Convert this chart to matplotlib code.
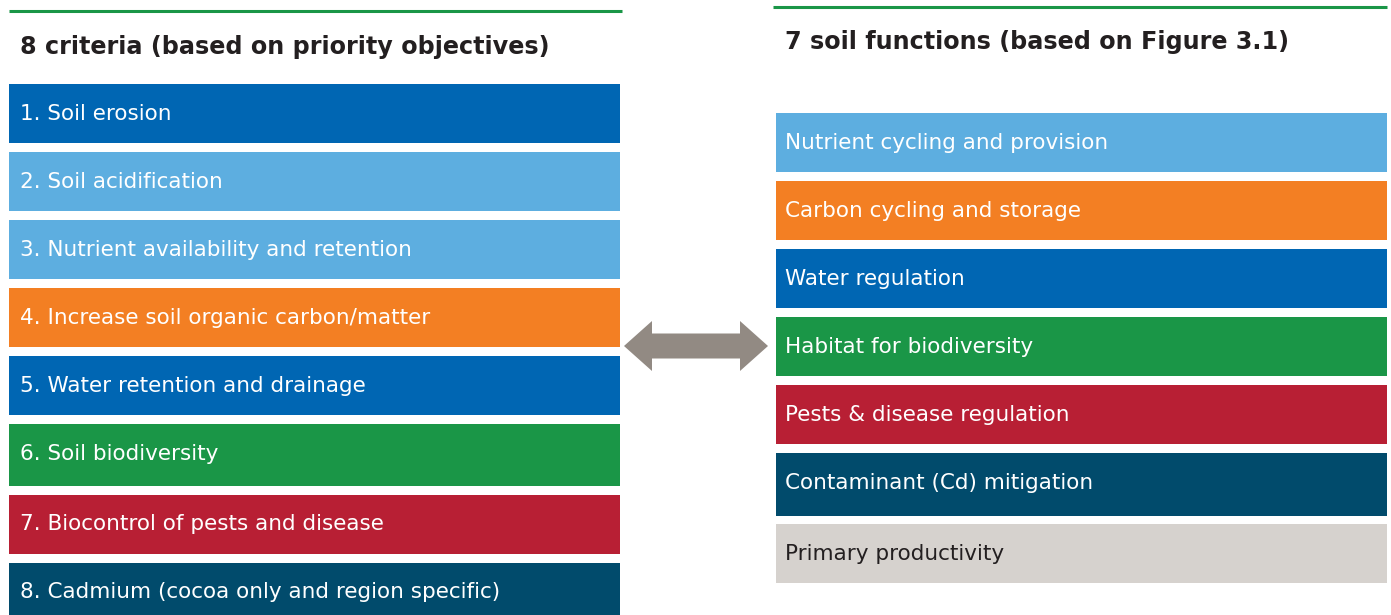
import matplotlib.pyplot as plt
from matplotlib.patches import Rectangle, Polygon

plt.rcParams['font.family'] = ['DejaVu Sans']

# data
criteria = ['1. Soil erosion', '2. Soil acidification', '3. Nutrient availability and retention',
            '4. Increase soil organic carbon/matter', '5. Water retention and drainage',
            '6. Soil biodiversity', '7. Biocontrol of pests and disease',
            '8. Cadmium (cocoa only and region specific)']
criteria_colors = ['#0066b3', '#5daee0', '#5daee0', '#f37f23', '#0066b3', '#1a9647', '#b81f34', '#014b6c']
functions = ['Nutrient cycling and provision', 'Carbon cycling and storage', 'Water regulation',
             'Habitat for biodiversity', 'Pests & disease regulation', 'Contaminant (Cd) mitigation',
             'Primary productivity']
function_colors = ['#5daee0', '#f37f23', '#0066b3', '#1a9647', '#b81f34', '#014b6c', '#d6d2ce']
function_text = ['white'] * 6 + ['#231f20']

W, H = 1391, 615
fig = plt.figure(figsize=(W / 100, H / 100), dpi=100)
ax = fig.add_axes([0, 0, 1, 1])
ax.set_xlim(0, W)
ax.set_ylim(H, 0)
ax.axis('off')

# left column
ax.plot([9, 622], [11, 11], color='#1a9647', lw=2.2, solid_capstyle='butt')
ax.text(20, 47, '8 criteria (based on priority objectives)', fontsize=17.2, fontweight='bold',
        color='#231f20', va='center', ha='left')
left_tops = [84, 152, 220, 288, 356, 424, 495, 563]
for i, (lab, c) in enumerate(zip(criteria, criteria_colors)):
    top = left_tops[i]
    h = 62 if i == 5 else 59
    ax.add_patch(Rectangle((9, top), 611, h, color=c, lw=0))
    ax.text(20, top + 29.5, lab, fontsize=15.5, color='white', va='center', ha='left')

# right column
ax.plot([773, 1387], [7, 7], color='#1a9647', lw=2.2, solid_capstyle='butt')
ax.text(785, 42, '7 soil functions (based on Figure 3.1)', fontsize=17.2, fontweight='bold',
        color='#231f20', va='center', ha='left')
right_tops = [113, 181, 249, 317, 385, 453, 524]
for i, (lab, c, tc) in enumerate(zip(functions, function_colors, function_text)):
    top = right_tops[i]
    h = 63 if i == 5 else 59
    ax.add_patch(Rectangle((776, top), 611, h, color=c, lw=0))
    ax.text(785, top + 30, lab, fontsize=15.5, color=tc, va='center', ha='left')

# double arrow
cy = 346
arrow = [(624, cy), (652, cy - 25), (652, cy - 12.5), (740, cy - 12.5), (740, cy - 25),
         (768, cy), (740, cy + 25), (740, cy + 12.5), (652, cy + 12.5), (652, cy + 25)]
ax.add_patch(Polygon(arrow, closed=True, color='#928a83', lw=0))

fig.savefig('out.png', dpi=100)
